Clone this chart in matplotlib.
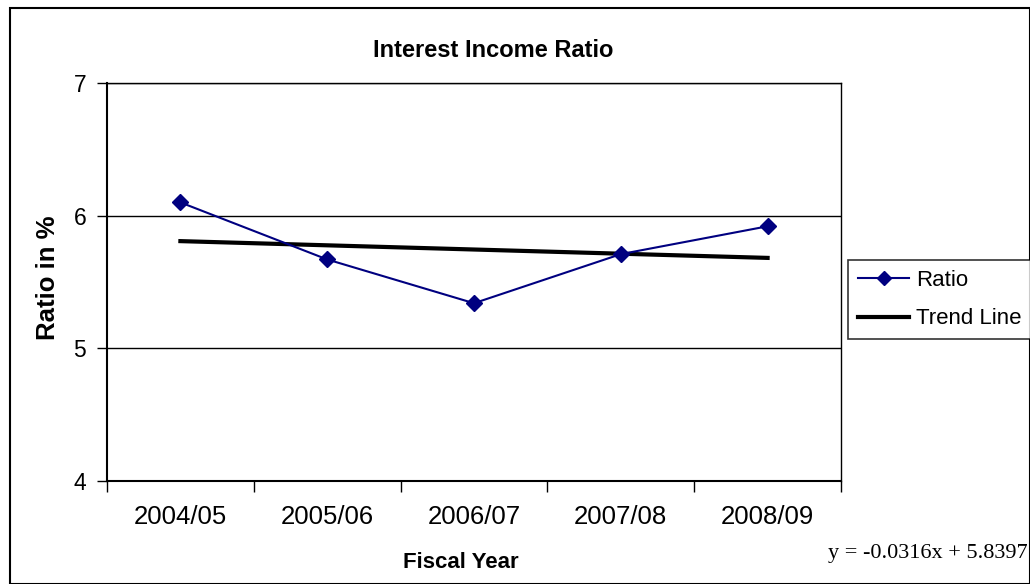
import matplotlib
matplotlib.use("Agg")
import matplotlib.pyplot as plt
import numpy as np
from matplotlib.patches import Rectangle

plt.rcParams['font.family'] = ['Liberation Sans', 'DejaVu Sans']

years = ["2004/05", "2005/06", "2006/07", "2007/08", "2008/09"]
ratio = [6.10, 5.67, 5.34, 5.71, 5.92]
trend_slope = -0.0316
trend_intercept = 5.8397
y_ticks = [4, 5, 6, 7]

W, H = 1030, 584
fig = plt.figure(figsize=(W / 100, H / 100), dpi=100)


def fx(px):
    return px / W


def fy(py):
    return 1 - py / H


ax = fig.add_axes([fx(107), fy(481), (841 - 107) / W, (481 - 83) / H])

x = np.arange(len(years))
trend = trend_slope * (x + 1) + trend_intercept

ax.plot(x, ratio, color='#000080', lw=1.5, marker='D', ms=8.5, label='Ratio', zorder=3)
ax.plot(x, trend, color='black', lw=3, label='Trend Line', zorder=2)

ax.set_xlim(-0.5, len(years) - 0.5)
ax.set_ylim(4, 7)
ax.set_yticks(y_ticks)
ax.set_yticklabels([str(t) for t in y_ticks], fontsize=16.5)
ax.set_xticks(np.arange(-0.5, len(years), 1))
ax.set_xticklabels([])
ax.set_xticks(x, minor=True)
ax.set_xticklabels(years, minor=True, fontsize=18.5)
ax.tick_params(axis='x', which='major', direction='out', length=8, width=1, color='black')
ax.tick_params(axis='x', which='minor', length=0, pad=17)
ax.tick_params(axis='y', direction='out', length=7, width=1, pad=8)
ax.yaxis.grid(True, color='black', lw=1)
for s in ax.spines.values():
    s.set_linewidth(1)
ax.spines['left'].set_linewidth(1.5)
ax.spines['bottom'].set_linewidth(1.5)

fig.text(fx(493), fy(57), "Interest Income Ratio", ha='center', va='baseline',
         fontsize=17, fontweight='bold')
fig.text(fx(403), fy(568), "Fiscal Year", ha='left', va='baseline',
         fontsize=16, fontweight='bold')
fig.text(fx(48), fy(278), "Ratio in %", ha='center', va='center',
         rotation=90, fontsize=18.5, fontweight='bold')
fig.text(fx(1028), fy(558), "y = -0.0316x + 5.8397", ha='right', va='baseline',
         fontsize=16, family=['Liberation Serif', 'DejaVu Serif'])

leg = fig.legend(loc='upper left', bbox_to_anchor=(fx(848), fy(260)),
                 frameon=True, fancybox=False, edgecolor='black', fontsize=16,
                 handlelength=2.3, handletextpad=0.3, borderpad=0.45, labelspacing=0.78,
                 borderaxespad=0, markerscale=0.8)
leg.get_frame().set_linewidth(1.2)

fig.patches.append(Rectangle((fx(10), 0), 1 - fx(10), fy(8),
                             transform=fig.transFigure, fill=False,
                             edgecolor='black', lw=1.5))

fig.savefig("out.png", dpi=100)
